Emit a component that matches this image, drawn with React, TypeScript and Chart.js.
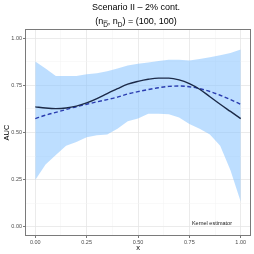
import React, { useEffect, useRef } from "react";
import { Chart, registerables } from "chart.js";

Chart.register(...registerables);

const xValues = [0, 0.05, 0.1, 0.15, 0.2, 0.25, 0.3, 0.35, 0.4, 0.45, 0.5, 0.55, 0.6, 0.65, 0.7, 0.75, 0.8, 0.85, 0.9, 0.95, 1.0];
const solidAUC = [0.636, 0.630, 0.627, 0.630, 0.640, 0.657, 0.680, 0.707, 0.733, 0.757, 0.772, 0.783, 0.789, 0.789, 0.780, 0.760, 0.730, 0.690, 0.650, 0.612, 0.574];
const dashedAUC = [0.574, 0.592, 0.607, 0.622, 0.637, 0.650, 0.663, 0.675, 0.688, 0.705, 0.717, 0.728, 0.738, 0.745, 0.747, 0.743, 0.733, 0.718, 0.698, 0.675, 0.650];
const upperBand = [0.877, 0.84, 0.80, 0.80, 0.80, 0.81, 0.815, 0.826, 0.84, 0.856, 0.866, 0.872, 0.88, 0.887, 0.886, 0.883, 0.89, 0.90, 0.91, 0.922, 0.941];
const lowerBand = [0.247, 0.33, 0.38, 0.43, 0.45, 0.475, 0.485, 0.49, 0.52, 0.56, 0.575, 0.60, 0.60, 0.597, 0.58, 0.545, 0.52, 0.49, 0.43, 0.30, 0.132];

const tickValues = [0, 0.125, 0.25, 0.375, 0.5, 0.625, 0.75, 0.875, 1.0];
const majorTicks = [0, 0.25, 0.5, 0.75, 1.0];

const titleText = "Scenario II \u2013 2% cont.";
const annotationText = "Kernel estimator";

const FONT = '"Liberation Sans", Arial, sans-serif';

const isMajor = (v: number) => majorTicks.some((m) => Math.abs(m - v) < 1e-9);

const pts = (ys: number[]) => xValues.map((x, i) => ({ x, y: ys[i] }));

const textPlugin = {
  id: "textPlugin",
  afterDraw(chart: any) {
    const ctx = chart.ctx;
    const { left, right, top, bottom } = chart.chartArea;
    ctx.save();
    ctx.strokeStyle = "#7a7a7a";
    ctx.lineWidth = 1;
    ctx.strokeRect(left + 0.5, top + 0.5, right - left - 1, bottom - top - 1);

    const cx = 136;
    ctx.fillStyle = "#000";
    ctx.textBaseline = "alphabetic";
    ctx.textAlign = "center";
    ctx.font = `9px ${FONT}`;
    ctx.fillText(titleText, cx, 9.5);

    const mainFont = `9px ${FONT}`;
    const subFont = `6.5px ${FONT}`;
    const pieces: { t: string; sub: boolean; bar?: boolean }[] = [
      { t: "(n", sub: false },
      { t: "D", sub: true, bar: true },
      { t: ", n", sub: false },
      { t: "D", sub: true },
      { t: ") = (100, 100)", sub: false },
    ];
    let total = 0;
    const widths = pieces.map((p) => {
      ctx.font = p.sub ? subFont : mainFont;
      const w = ctx.measureText(p.t).width;
      total += w;
      return w;
    });
    let x = cx - total / 2;
    ctx.textAlign = "left";
    const baseY = 24;
    pieces.forEach((p, i) => {
      ctx.font = p.sub ? subFont : mainFont;
      const y = p.sub ? baseY + 2.5 : baseY;
      ctx.fillText(p.t, x, y);
      if (p.bar) {
        ctx.strokeStyle = "#000";
        ctx.lineWidth = 0.6;
        ctx.beginPath();
        ctx.moveTo(x + 0.3, y - 5.6);
        ctx.lineTo(x + widths[i] - 0.3, y - 5.6);
        ctx.stroke();
      }
      x += widths[i];
    });

    const xs = chart.scales.x;
    const ys = chart.scales.y;
    ctx.font = `5.5px ${FONT}`;
    ctx.fillStyle = "#1a1a1a";
    ctx.textAlign = "center";
    ctx.textBaseline = "middle";
    ctx.fillText(annotationText, xs.getPixelForValue(0.86), ys.getPixelForValue(0.015));
    ctx.restore();
  },
};

export default function App() {
  const ref = useRef<HTMLCanvasElement>(null);
  useEffect(() => {
    document.body.style.margin = "0";
    const chart = new Chart(ref.current!, {
      type: "line",
      data: {
        datasets: [
          {
            label: "upper",
            data: pts(upperBand),
            borderWidth: 0,
            pointRadius: 0,
            backgroundColor: "rgba(135,195,255,0.55)",
            fill: "+1",
            tension: 0,
            order: 3,
          },
          {
            label: "lower",
            data: pts(lowerBand),
            borderWidth: 0,
            pointRadius: 0,
            backgroundColor: "rgba(135,195,255,0.55)",
            fill: false,
            tension: 0,
            order: 4,
          },
          {
            label: "dashed",
            data: pts(dashedAUC),
            borderColor: "#2a3cb0",
            borderWidth: 1.4,
            borderDash: [4, 2.5],
            pointRadius: 0,
            fill: false,
            tension: 0.4,
            cubicInterpolationMode: "monotone",
            order: 2,
          },
          {
            label: "solid",
            data: pts(solidAUC),
            borderColor: "#1c2a48",
            borderWidth: 1.4,
            pointRadius: 0,
            fill: false,
            tension: 0.4,
            cubicInterpolationMode: "monotone",
            order: 1,
          },
        ],
      },
      options: {
        animation: false,
        responsive: false,
        maintainAspectRatio: false,
        layout: { padding: { top: 29, right: 3, left: 0, bottom: 0 } },
        plugins: {
          legend: { display: false },
          title: { display: false },
          tooltip: { enabled: false },
        },
        scales: {
          x: {
            type: "linear",
            min: -0.05,
            max: 1.05,
            afterBuildTicks: (s: any) => {
              s.ticks = tickValues.map((v) => ({ value: v }));
            },
            afterFit: (s: any) => {
              s.height = 18;
            },
            ticks: {
              autoSkip: false,
              maxRotation: 0,
              padding: 1,
              color: "#4d4d4d",
              font: { family: FONT, size: 5.5 },
              callback: (v: any) => (isMajor(Number(v)) ? Number(v).toFixed(2) : ""),
            },
            grid: {
              color: (c: any) => (isMajor(c.tick?.value) ? "#e6e6e6" : "#f3f3f3"),
              lineWidth: (c: any) => (isMajor(c.tick?.value) ? 0.8 : 0.5),
              tickLength: 2,
              tickColor: (c: any) => (isMajor(c.tick?.value) ? "#555" : "rgba(0,0,0,0)"),
              tickWidth: 0.8,
            },
            border: { display: false },
            title: {
              display: true,
              text: "x",
              color: "#000",
              font: { family: FONT, size: 7.5 },
              padding: { top: 0, bottom: 2 },
            },
          },
          y: {
            type: "linear",
            min: -0.05,
            max: 1.05,
            afterBuildTicks: (s: any) => {
              s.ticks = tickValues.map((v) => ({ value: v }));
            },
            afterFit: (s: any) => {
              s.width = 25;
            },
            ticks: {
              autoSkip: false,
              padding: 1,
              color: "#4d4d4d",
              font: { family: FONT, size: 5.5 },
              callback: (v: any) => (isMajor(Number(v)) ? Number(v).toFixed(2) : ""),
            },
            grid: {
              color: (c: any) => (isMajor(c.tick?.value) ? "#e6e6e6" : "#f3f3f3"),
              lineWidth: (c: any) => (isMajor(c.tick?.value) ? 0.8 : 0.5),
              tickLength: 2,
              tickColor: (c: any) => (isMajor(c.tick?.value) ? "#555" : "rgba(0,0,0,0)"),
              tickWidth: 0.8,
            },
            border: { display: false },
            title: {
              display: true,
              text: "AUC",
              color: "#000",
              font: { family: FONT, size: 7.5 },
              padding: { top: 2, bottom: 0 },
            },
          },
        },
      },
      plugins: [textPlugin],
    });
    return () => chart.destroy();
  }, []);
  return (
    <div style={{ position: "absolute", left: 0, top: 0, width: 254, height: 254 }}>
      <canvas ref={ref} width={254} height={254} style={{ width: 254, height: 254, display: "block" }} />
    </div>
  );
}
